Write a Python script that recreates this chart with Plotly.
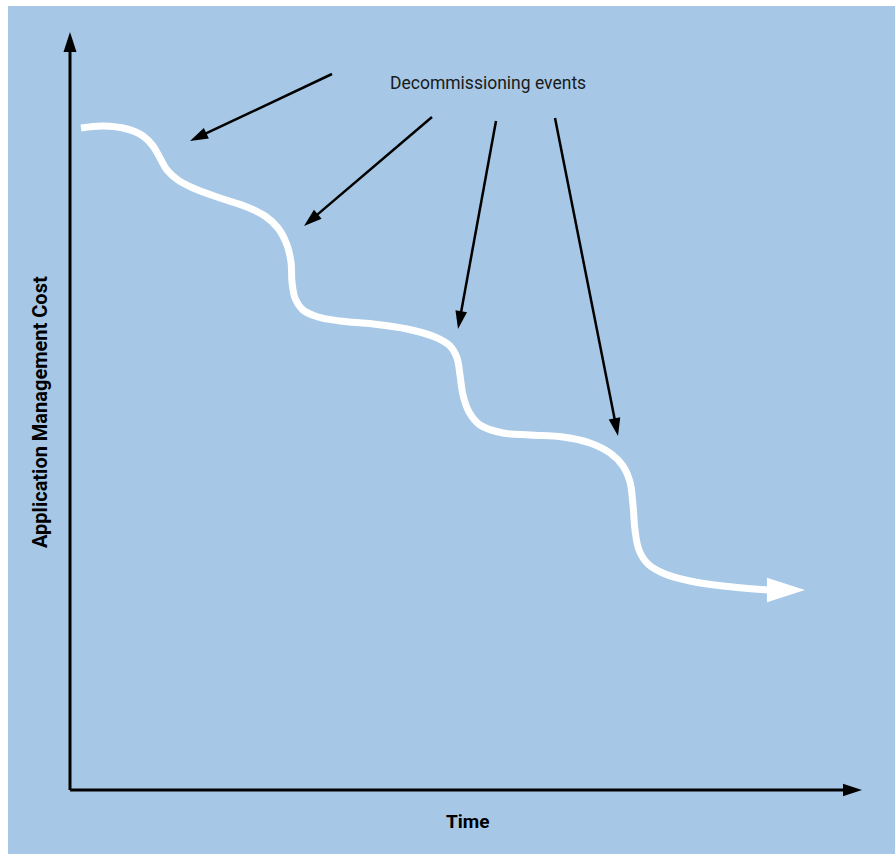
import plotly.graph_objects as go

# Cost curve (time units, cost units)
curve_time = [11, 33, 57, 73, 83, 90, 97, 108, 123, 150, 177, 195, 208, 217, 221, 222, 225, 233,
              248, 270, 303, 337, 365, 380, 387, 390, 393, 399, 410, 433, 460, 493, 520, 540, 553,
              560, 563, 565, 569, 578, 595, 620, 653, 698]
curve_cost = [662, 664, 661, 654, 644, 632, 620, 610, 602, 592, 583, 574, 562, 545, 528, 508, 492,
              480, 473, 469, 466, 461, 453, 444, 432, 415, 395, 378, 365, 357, 355, 353, 347, 337,
              324, 308, 285, 260, 240, 226, 216, 209, 204, 200]
curve_tip = (735, 200)

# Pointer arrows: label end -> curve end
ptr_x0 = [262, 362, 426, 485]
ptr_y0 = [716, 673, 669, 672]
ptr_x1 = [120, 234, 388, 548]
ptr_y1 = [649, 564, 461, 354]

axis_x_end = 792
axis_y_end = 758

label_text = "Decommissioning events"
label_pos = (418, 707)
x_title = "Time"
y_title = "Application Management Cost"

BG = "#A6C8E6"
FONT = "Liberation Sans Narrow, Roboto, Arial"

fig = go.Figure()


def arrow_marker(color, size, npts=2):
    return dict(symbol="arrow", size=[0] * (npts - 1) + [size], angleref="previous",
                color=color, opacity=1, line_width=0)


# Axes with arrowheads
fig.add_trace(go.Scatter(
    x=[0, 0], y=[0, axis_y_end], mode="lines+markers",
    line=dict(color="black", width=3), marker=arrow_marker("black", 21),
    hoverinfo="skip", showlegend=False))
fig.add_trace(go.Scatter(
    x=[0, axis_x_end], y=[0, 0], mode="lines+markers",
    line=dict(color="black", width=3), marker=arrow_marker("black", 20),
    hoverinfo="skip", showlegend=False))

# Curve
fig.add_trace(go.Scatter(
    x=curve_time, y=curve_cost, mode="lines",
    line=dict(color="white", width=7, shape="spline", smoothing=1.0),
    hoverinfo="skip", showlegend=False))
fig.add_trace(go.Scatter(
    x=[curve_time[-1], curve_tip[0]], y=[curve_cost[-1], curve_tip[1]], mode="markers",
    marker=arrow_marker("white", 40), hoverinfo="skip", showlegend=False))

# Pointer arrows
for a, b, c, d in zip(ptr_x0, ptr_y0, ptr_x1, ptr_y1):
    fig.add_trace(go.Scatter(
        x=[a, c], y=[b, d], mode="lines+markers",
        line=dict(color="black", width=2.5), marker=arrow_marker("black", 19),
        hoverinfo="skip", showlegend=False))

fig.add_annotation(x=label_pos[0], y=label_pos[1], text=label_text, showarrow=False,
                   font=dict(family=FONT, size=17.5, color="#1a1a1a"), xref="x", yref="y")
fig.add_annotation(x=398, y=-31, text="<b>" + x_title + "</b>", showarrow=False,
                   font=dict(family=FONT, size=19, color="black"), xref="x", yref="y")
fig.add_annotation(x=-30, y=378, text="<b>" + y_title + "</b>", showarrow=False, textangle=-90,
                   font=dict(family=FONT, size=20, color="black"), xref="x", yref="y")

fig.update_layout(
    width=895, height=854,
    margin=dict(l=8, r=0, t=6, b=0),
    paper_bgcolor="white", plot_bgcolor=BG,
    xaxis=dict(range=[-62, 825], visible=False, fixedrange=True),
    yaxis=dict(range=[-64, 784], visible=False, fixedrange=True),
)

fig.write_html(
    "out.html",
    config={"displayModeBar": False},
    post_script="document.body.style.margin='0';"
                "document.documentElement.style.overflow='hidden';"
                "document.body.style.overflow='hidden';"
                "document.body.style.background='" + BG + "';"
                "document.documentElement.style.background='" + BG + "';",
)
